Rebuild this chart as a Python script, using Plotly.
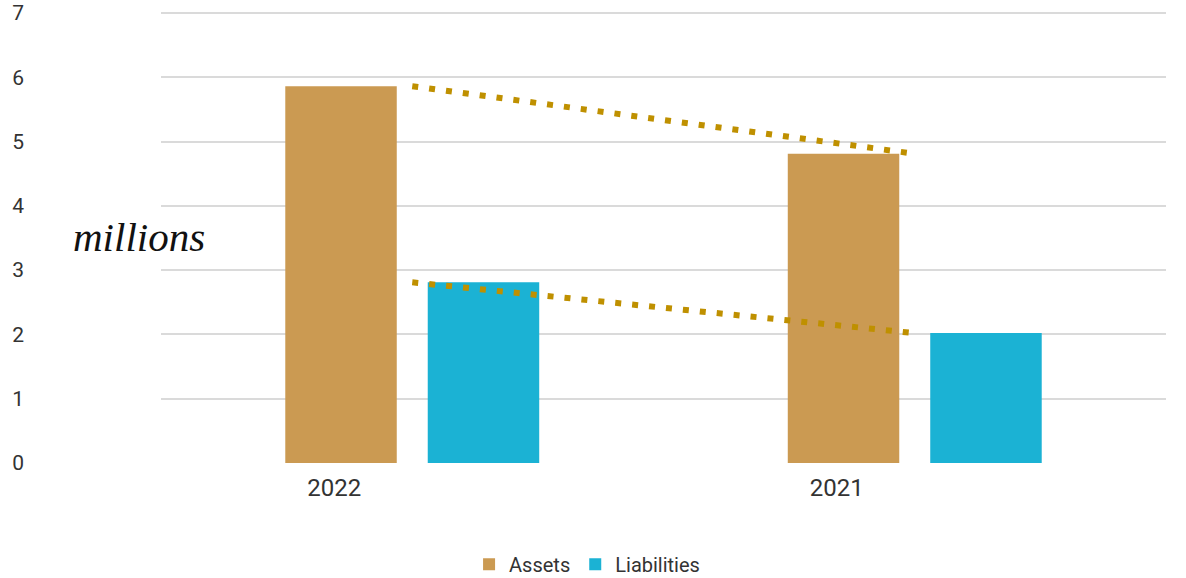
import plotly.graph_objects as go

years = ["2022", "2021"]
assets = [5.86, 4.81]
liabilities = [2.81, 2.02]
y_ticks = [0, 1, 2, 3, 4, 5, 6, 7]

ASSET_COLOR = "#CB9A52"
LIAB_COLOR = "#1BB2D4"
TREND_COLOR = "#BF9000"

fig = go.Figure()
fig.add_trace(go.Bar(name="Assets", x=years, y=assets, marker_color=ASSET_COLOR,
                     marker_line_width=0))
fig.add_trace(go.Bar(name="Liabilities", x=years, y=liabilities, marker_color=LIAB_COLOR,
                     marker_line_width=0))
fig.add_trace(go.Scatter(x=years, y=assets, mode="lines", showlegend=False,
                         line=dict(color=TREND_COLOR, width=6, dash="6px,11px"),
                         hoverinfo="skip"))
fig.add_trace(go.Scatter(x=years, y=liabilities, mode="lines", showlegend=False,
                         line=dict(color=TREND_COLOR, width=6, dash="6px,11px"),
                         hoverinfo="skip"))

fig.update_layout(
    width=1186, height=578,
    margin=dict(l=161, r=20, t=11, b=115, autoexpand=False),
    paper_bgcolor="white", plot_bgcolor="white",
    barmode="group", bargap=0.433, bargroupgap=0.2175,
    font=dict(family="Roboto", color="#333333"),
    showlegend=True,
    legend=dict(orientation="h", xref="container", yref="container",
                x=0.495, xanchor="center", y=0.024, yanchor="middle",
                font=dict(size=20, color="#333333"), itemwidth=30,
                traceorder="normal"),
    annotations=[dict(text="<i>millions</i>", xref="paper", yref="paper",
                      x=-0.022, y=0.5, xanchor="center", yanchor="middle",
                      showarrow=False,
                      font=dict(family="Liberation Serif", size=41, color="#111111"))],
)
fig.update_yaxes(range=[0, 7.03], tickvals=y_ticks, showgrid=True, gridcolor="#DADADA",
                 gridwidth=2, zeroline=False, showline=False,
                 tickfont=dict(size=21, color="#333333"), ticklabelstandoff=136,
                 ticklabeloverflow="allow")
fig.update_xaxes(showgrid=False, showline=False, zeroline=False,
                 tickfont=dict(size=24, color="#333333"), ticklabelshift=-78,
                 ticklabelstandoff=8)

fig.write_html("out.html", config={"displayModeBar": False},
               post_script="document.body.style.margin='0';document.body.style.padding='0';")
